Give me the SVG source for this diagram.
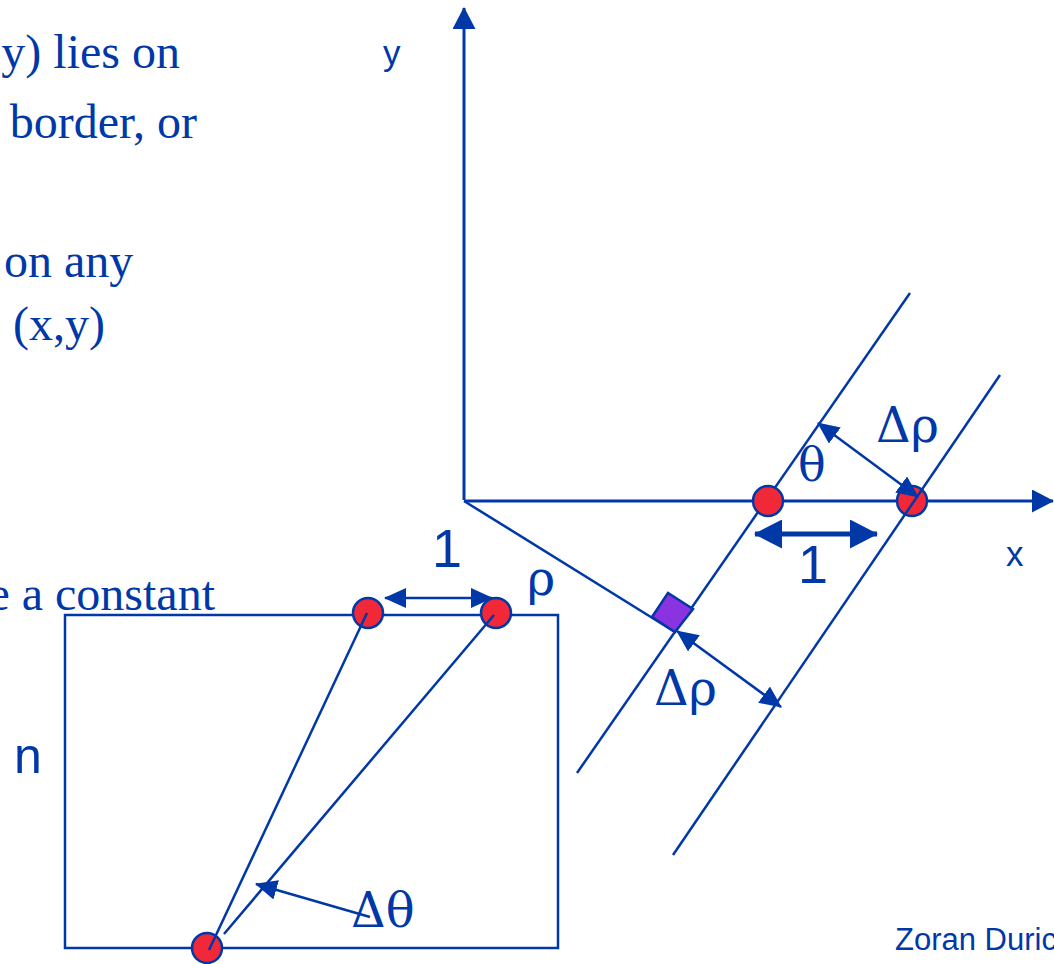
<svg xmlns="http://www.w3.org/2000/svg" width="1054" height="964" viewBox="0 0 1054 964">
  <style>
    .ln { stroke: #0038a8; stroke-width: 2.5; fill: none; }
    .ax { stroke: #0038a8; stroke-width: 3; fill: none; }
    .dot { fill: #f02838; stroke: #0038a8; stroke-width: 2.5; }
    .serif { font-family: "Liberation Serif", "Times New Roman", serif; fill: #0038a8; }
    .greek { font-family: "DejaVu Serif", "Liberation Serif", serif; fill: #0038a8; }
    .sans { font-family: "Liberation Sans", Arial, sans-serif; fill: #0038a8; }
  </style>
  <defs>
    <marker id="ah" markerUnits="userSpaceOnUse" viewBox="0 0 22 20" markerWidth="22" markerHeight="20" refX="21" refY="10" orient="auto-start-reverse">
      <path d="M0,0 L22,10 L0,20 z" fill="#0038a8"/>
    </marker>
    <marker id="ahAxis" markerUnits="userSpaceOnUse" viewBox="0 0 22 23" markerWidth="22" markerHeight="23" refX="21" refY="11.5" orient="auto-start-reverse">
      <path d="M0,0 L22,11.5 L0,23 z" fill="#0038a8"/>
    </marker>
    <marker id="ahBold" markerUnits="userSpaceOnUse" viewBox="0 0 28 29" markerWidth="28" markerHeight="29" refX="27" refY="14.5" orient="auto-start-reverse">
      <path d="M0,0 L28,14.5 L0,29 z" fill="#0038a8"/>
    </marker>
  </defs>
  <rect width="1054" height="964" fill="#ffffff"/>

  <g id="slide-text">
    <text class="serif" x="180" y="68" font-size="48" text-anchor="end">y) lies on</text>
    <text class="serif" x="197" y="138" font-size="48" text-anchor="end">border, or</text>
    <text class="serif" x="4" y="277" font-size="48">on any</text>
    <text class="serif" x="13" y="340" font-size="48">(x,y)</text>
    <text class="serif" x="215" y="610" font-size="48" text-anchor="end">e a constant</text>
  </g>

  <g id="image-rect">
    <rect class="ln" x="65" y="615" width="493" height="333"/>
  </g>

  <g id="axes">
    <line class="ax" x1="464" y1="500" x2="464" y2="8" marker-end="url(#ahAxis)"/>
    <line class="ax" x1="464" y1="501" x2="1053" y2="501" marker-end="url(#ahAxis)"/>
  </g>

  <g id="rho-line">
    <line class="ln" x1="464" y1="501" x2="675" y2="632"/>
  </g>

  <g id="line-1">
    <line class="ln" x1="577" y1="773" x2="910" y2="293"/>
  </g>

  <g id="right-angle">
    <polygon points="652,617 668,593 693,609 675,632" fill="#8a33e0" stroke="#0038a8" stroke-width="2.5"/>
  </g>

  <g id="point-a">
    <circle class="dot" cx="768" cy="501" r="15"/>
  </g>
  <g id="point-b">
    <circle class="dot" cx="912" cy="501" r="15"/>
  </g>

  <g id="line-2">
    <line class="ln" x1="673" y1="855" x2="1000" y2="375"/>
  </g>

  <g id="point-c">
    <circle class="dot" cx="368" cy="613" r="15"/>
  </g>
  <g id="point-d">
    <circle class="dot" cx="496" cy="613" r="15"/>
  </g>
  <g id="point-e">
    <circle class="dot" cx="207" cy="948" r="15"/>
  </g>

  <g id="connectors">
    <line class="ln" x1="209" y1="950" x2="367" y2="613"/>
    <line class="ln" x1="224" y1="934" x2="494" y2="615"/>
    <line class="ln" x1="370" y1="917" x2="256" y2="884" marker-end="url(#ah)"/>
    <line class="ln" x1="385" y1="598" x2="492" y2="598" marker-start="url(#ah)" marker-end="url(#ah)"/>
    <line class="ln" x1="818" y1="423" x2="918" y2="497" marker-start="url(#ah)" marker-end="url(#ah)"/>
    <line class="ln" x1="677" y1="631" x2="781" y2="707" marker-start="url(#ah)" marker-end="url(#ah)"/>
    <line stroke="#0038a8" stroke-width="5" x1="755" y1="534" x2="877" y2="534" marker-start="url(#ahBold)" marker-end="url(#ahBold)"/>
  </g>

  <g id="labels">
    <text class="sans" x="383" y="65" font-size="35">y</text>
    <text class="sans" x="1006" y="566" font-size="35">x</text>
    <text class="sans" x="432" y="567" font-size="54">1</text>
    <text class="sans" x="798" y="583" font-size="54">1</text>
    <text class="sans" x="14" y="773" font-size="50">n</text>
    <text class="greek" x="876" y="442" font-size="48">Δρ</text>
    <text class="greek" x="798" y="481" font-size="46">θ</text>
    <text class="greek" x="654" y="705" font-size="48">Δρ</text>
    <text class="greek" x="527" y="595" font-size="48">ρ</text>
    <text class="greek" x="351" y="927" font-size="48">Δθ</text>
    <text class="sans" x="895" y="950" font-size="31">Zoran Duric</text>
  </g>
</svg>
